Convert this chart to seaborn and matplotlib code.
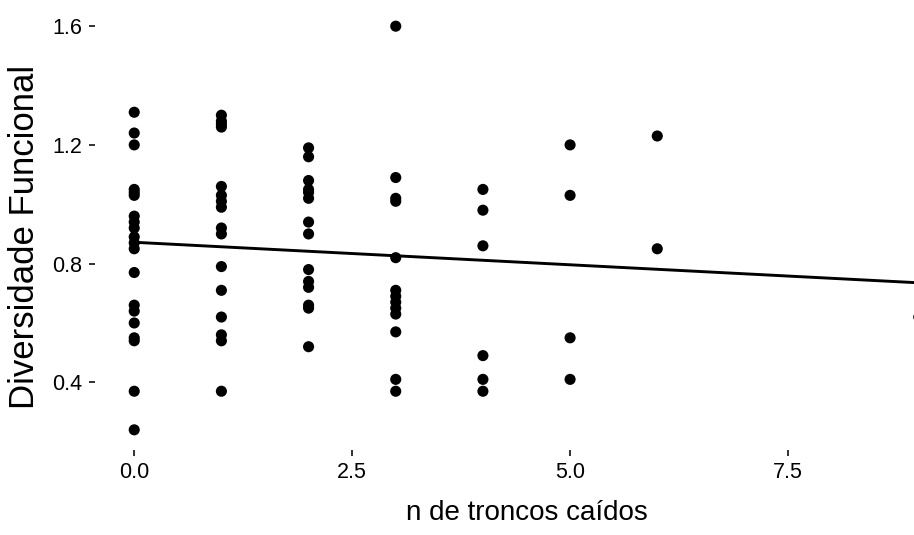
import matplotlib
matplotlib.use("Agg")
import matplotlib.pyplot as plt
import seaborn as sns
import pandas as pd

# n de troncos caídos -> Diversidade Funcional values
troncos_0 = [1.31, 1.24, 1.20, 1.05, 1.04, 1.03, 0.96, 0.94, 0.92, 0.89, 0.87,
             0.85, 0.77, 0.66, 0.64, 0.60, 0.55, 0.54, 0.37, 0.24]
troncos_1 = [1.30, 1.28, 1.27, 1.26, 1.06, 1.03, 1.01, 0.99, 0.92, 0.90, 0.79,
             0.71, 0.62, 0.56, 0.54, 0.37]
troncos_2 = [1.19, 1.16, 1.08, 1.05, 1.04, 1.02, 0.94, 0.90, 0.78, 0.74, 0.72,
             0.66, 0.65, 0.52]
troncos_3 = [1.60, 1.09, 1.02, 1.01, 0.82, 0.71, 0.69, 0.67, 0.65, 0.63, 0.57,
             0.41, 0.37]
troncos_4 = [1.05, 0.98, 0.86, 0.49, 0.41, 0.37]
troncos_5 = [1.20, 1.03, 0.55, 0.41]
troncos_6 = [1.23, 0.85]
troncos_9 = [0.62]

groups = {0: troncos_0, 1: troncos_1, 2: troncos_2, 3: troncos_3,
          4: troncos_4, 5: troncos_5, 6: troncos_6, 9: troncos_9}

x_ticks = [0.0, 2.5, 5.0, 7.5]
x_tick_labels = ["0.0", "2.5", "5.0", "7.5"]
y_ticks = [0.4, 0.8, 1.2, 1.6]
y_tick_labels = ["0.4", "0.8", "1.2", "1.6"]

xs, ys = [], []
for k, vals in groups.items():
    xs += [k] * len(vals)
    ys += vals
df = pd.DataFrame({"troncos": xs, "div": ys})

sns.set_theme(style="white")
plt.rcParams["font.family"] = ["Liberation Sans", "DejaVu Sans"]

W, H = 914, 535
fig = plt.figure(figsize=(W / 100, H / 100), dpi=100)
# axes in pixel terms: left 95, right 958 (cropped by figure), top 6, bottom 450
ax = fig.add_axes([95 / W, 1 - 450 / H, (958 - 95) / W, (450 - 6) / H])

sns.regplot(data=df, x="troncos", y="div", ax=ax, ci=None, truncate=True,
            scatter_kws=dict(s=64, color="black", edgecolor="none", alpha=1, clip_on=False),
            line_kws=dict(color="black", linewidth=2.1))

ax.set_xlim(-0.45, 9.45)
ax.set_ylim(0.172, 1.668)
ax.set_xticks(x_ticks)
ax.set_xticklabels(x_tick_labels)
ax.set_yticks(y_ticks)
ax.set_yticklabels(y_tick_labels)
for s in ax.spines.values():
    s.set_visible(False)
ax.tick_params(axis="both", which="major", direction="out", length=4, width=1.3,
               color="#222222", labelsize=15.5, labelcolor="black", pad=5,
               bottom=True, left=True)
ax.set_xlabel("n de troncos caídos", fontsize=20, color="black", labelpad=12)
ax.set_ylabel("Diversidade Funcional", fontsize=25, color="black", labelpad=10)
ax.yaxis.set_label_coords(-54 / (958 - 95), 0.5 + (228 - 237) / 444)
ax.grid(False)
ax.set_facecolor("white")

fig.savefig("out.png", dpi=100)
